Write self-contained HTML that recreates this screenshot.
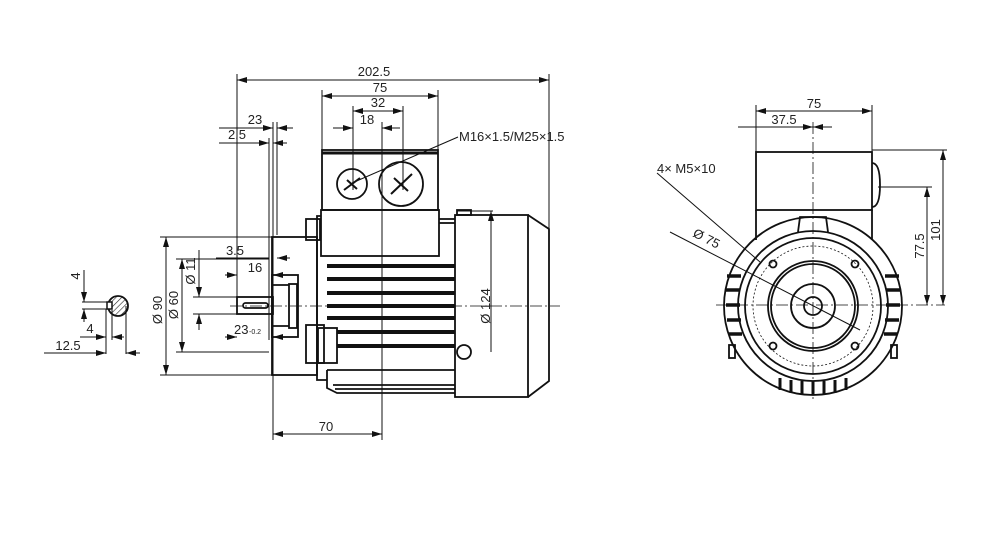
<!DOCTYPE html>
<html><head><meta charset="utf-8"><style>
html,body{margin:0;padding:0;background:#fff;}
svg{display:block;font-family:"Liberation Sans",sans-serif;}
text{fill:#222;font-size:13px;}
</style></head><body>
<svg width="998" height="545" viewBox="0 0 998 545" xmlns="http://www.w3.org/2000/svg">
<defs>
<marker id="a" viewBox="0 0 10 6" refX="10" refY="3" markerWidth="10" markerHeight="6" orient="auto-start-reverse" markerUnits="userSpaceOnUse"><path d="M0,0L10,3L0,6z" fill="#111"/></marker>
<pattern id="h" width="4" height="4" patternUnits="userSpaceOnUse" patternTransform="rotate(45)"><line x1="0" y1="0" x2="0" y2="4" stroke="#222" stroke-width="1.2"/></pattern>
</defs>
<g stroke="#111" fill="none" stroke-width="1">
<!-- ===== Side view dimensions ===== -->
<line x1="237" y1="80" x2="549" y2="80" marker-start="url(#a)" marker-end="url(#a)"/>
<line x1="237" y1="74" x2="237" y2="300"/>
<line x1="549" y1="74" x2="549" y2="230"/>
<line x1="322" y1="96" x2="438" y2="96" marker-start="url(#a)" marker-end="url(#a)"/>
<line x1="322" y1="90" x2="322" y2="150"/><line x1="438" y1="90" x2="438" y2="150"/>
<line x1="353" y1="111" x2="403" y2="111" marker-start="url(#a)" marker-end="url(#a)"/>
<line x1="353" y1="106" x2="353" y2="190"/><line x1="403" y1="106" x2="403" y2="190"/>
<line x1="333" y1="128" x2="353" y2="128" marker-end="url(#a)"/>
<line x1="382" y1="128" x2="400" y2="128" marker-start="url(#a)"/>
<line x1="382" y1="122" x2="382" y2="440"/>
<line x1="219" y1="128" x2="273" y2="128" marker-end="url(#a)"/>
<line x1="277" y1="128" x2="293" y2="128" marker-start="url(#a)"/>
<line x1="219" y1="143" x2="269" y2="143" marker-end="url(#a)"/>
<line x1="273" y1="143" x2="287" y2="143" marker-start="url(#a)"/>
<line x1="269" y1="138" x2="269" y2="340"/><line x1="273" y1="122" x2="273" y2="440"/><line x1="277" y1="122" x2="277" y2="235"/>
<line x1="273" y1="434" x2="382" y2="434" marker-start="url(#a)" marker-end="url(#a)"/>
<!-- M16 leader -->
<line x1="352" y1="183" x2="458" y2="137"/>
<!-- Ø90, Ø60, Ø11 -->
<line x1="160" y1="237" x2="273" y2="237"/><line x1="160" y1="375" x2="273" y2="375"/>
<line x1="166" y1="237" x2="166" y2="375" marker-start="url(#a)" marker-end="url(#a)"/>
<line x1="176" y1="259" x2="269" y2="259"/><line x1="176" y1="352" x2="269" y2="352"/>
<line x1="182" y1="259" x2="182" y2="352" marker-start="url(#a)" marker-end="url(#a)"/>
<line x1="193" y1="297" x2="240" y2="297"/><line x1="193" y1="314" x2="240" y2="314"/>
<line x1="199" y1="250" x2="199" y2="297" marker-end="url(#a)"/>
<line x1="199" y1="314" x2="199" y2="330" marker-start="url(#a)"/>
<line x1="216" y1="258" x2="269" y2="258" /><line x1="277" y1="258" x2="290" y2="258" marker-start="url(#a)"/>
<line x1="225" y1="275" x2="237" y2="275" marker-end="url(#a)"/>
<line x1="273" y1="275" x2="282" y2="275" marker-start="url(#a)"/>
<line x1="225" y1="337" x2="237" y2="337" marker-end="url(#a)"/>
<line x1="273" y1="337" x2="285" y2="337" marker-start="url(#a)"/>
<!-- Ø124 -->
<line x1="457" y1="211" x2="493" y2="211"/>
<line x1="491" y1="211" x2="491" y2="352" marker-start="url(#a)"/>
<!-- center line -->
<line x1="230" y1="306" x2="560" y2="306" stroke-dasharray="12,3,2,3" stroke-width="0.8"/>
<!-- ===== Side view body ===== -->
<g stroke-width="1.8">
<rect x="322" y="150" width="116" height="60"/>
<line x1="322" y1="153" x2="438" y2="153" stroke-width="3"/>
<circle cx="352" cy="184" r="15"/><circle cx="401" cy="184" r="22"/>
<rect x="321" y="210" width="118" height="46"/>
<polyline points="321,216 317,216 317,380 327,380"/>
<rect x="306" y="219" width="14" height="21"/>
<rect x="306" y="325" width="18" height="38"/><rect x="318" y="328" width="19" height="35"/>
<rect x="272" y="237" width="45" height="138"/>
<rect x="272" y="275" width="26" height="62"/>
<rect x="289" y="284" width="8" height="44"/>
<rect x="237" y="297" width="36" height="17"/>
<rect x="243" y="303" width="25" height="5" rx="2.5"/>
<line x1="272" y1="285" x2="289" y2="285"/><line x1="272" y1="326" x2="289" y2="326"/>
<line x1="439" y1="219" x2="455" y2="219"/><line x1="439" y1="223" x2="455" y2="223"/>
<rect x="455" y="215" width="73" height="182"/>
<polyline points="528,215 549,229 549,381 528,397"/>
<rect x="457" y="210" width="14" height="5"/>
<circle cx="464" cy="352" r="7"/>
<polyline points="327,370 327,388 337,393 455,393"/>
<line x1="327" y1="370" x2="455" y2="370"/>
<line x1="333" y1="385" x2="455" y2="385"/>
<line x1="335" y1="389" x2="455" y2="389"/>
</g>
<g stroke-width="4">
<line x1="327" y1="266" x2="455" y2="266"/><line x1="327" y1="279" x2="455" y2="279"/>
<line x1="327" y1="293" x2="455" y2="293"/><line x1="327" y1="306" x2="455" y2="306"/>
<line x1="327" y1="318" x2="455" y2="318"/><line x1="337" y1="332" x2="455" y2="332"/>
<line x1="337" y1="346" x2="455" y2="346"/>
</g>
<g stroke-width="2">
<path d="M344,190 L360,178 M347,180 L357,189"/>
<path d="M391,194 L412,174 M394,178 L408,191"/>
</g>
<!-- ===== Key detail ===== -->
<circle cx="118" cy="306" r="10" fill="url(#h)" stroke-width="1.8"/>
<rect x="107" y="302" width="5" height="7" fill="#fff" stroke-width="1.5"/>
<line x1="82" y1="302" x2="110" y2="302"/><line x1="82" y1="309" x2="110" y2="309"/>
<line x1="84" y1="270" x2="84" y2="302" marker-end="url(#a)"/>
<line x1="84" y1="309" x2="84" y2="322" marker-start="url(#a)"/>
<line x1="106" y1="309" x2="106" y2="354"/><line x1="112" y1="310" x2="112" y2="340"/><line x1="126" y1="306" x2="126" y2="354"/>
<line x1="80" y1="337" x2="106" y2="337" marker-end="url(#a)"/>
<line x1="112" y1="337" x2="124" y2="337" marker-start="url(#a)"/>
<line x1="44" y1="353" x2="106" y2="353" marker-end="url(#a)"/>
<line x1="126" y1="353" x2="140" y2="353" marker-start="url(#a)"/>
<!-- ===== End view ===== -->
<line x1="756" y1="111" x2="872" y2="111" marker-start="url(#a)" marker-end="url(#a)"/>
<line x1="756" y1="105" x2="756" y2="152"/><line x1="872" y1="105" x2="872" y2="152"/>
<line x1="738" y1="127" x2="813" y2="127" marker-end="url(#a)"/>
<line x1="813" y1="127" x2="832" y2="127" marker-start="url(#a)"/>
<line x1="813" y1="122" x2="813" y2="400" stroke-dasharray="12,3,2,3" stroke-width="0.8"/>
<line x1="716" y1="305" x2="945" y2="305" stroke-dasharray="12,3,2,3" stroke-width="0.8"/>
<line x1="872" y1="150" x2="947" y2="150"/><line x1="878" y1="187" x2="932" y2="187"/>
<line x1="943" y1="150" x2="943" y2="305" marker-start="url(#a)" marker-end="url(#a)"/>
<line x1="927" y1="187" x2="927" y2="305" marker-start="url(#a)" marker-end="url(#a)"/>
<line x1="657" y1="173" x2="760" y2="262"/>
<line x1="670" y1="232" x2="860" y2="330"/>
<g stroke-width="1.8">
<rect x="756" y="152" width="116" height="58"/>
<path d="M872,163 q8,0 8,22 q0,22 -8,22"/>
<line x1="756" y1="210" x2="756" y2="240"/><line x1="872" y1="210" x2="872" y2="240"/>
<circle cx="813" cy="306" r="89"/>
<circle cx="813" cy="306" r="75"/>
<circle cx="813" cy="306" r="68"/>
<circle cx="813" cy="306" r="45"/><circle cx="813" cy="306" r="42"/>
<circle cx="813" cy="306" r="22"/><circle cx="813" cy="306" r="9"/>
<path d="M798,232 L800,217 L826,217 L828,232"/>
<circle cx="773" cy="264" r="3.5"/><circle cx="855" cy="264" r="3.5"/>
<circle cx="773" cy="346" r="3.5"/><circle cx="855" cy="346" r="3.5"/>
<rect x="729" y="345" width="6" height="13"/><rect x="891" y="345" width="6" height="13"/>
</g>
<circle cx="813" cy="306" r="60" stroke-dasharray="2,2" stroke-width="0.8"/>
<g stroke-width="3.5">
<line x1="727" y1="276" x2="741" y2="276"/><line x1="726" y1="290" x2="740" y2="290"/><line x1="726" y1="305" x2="740" y2="305"/><line x1="727" y1="320" x2="741" y2="320"/><line x1="729" y1="334" x2="742" y2="334"/>
<line x1="885" y1="276" x2="899" y2="276"/><line x1="886" y1="290" x2="900" y2="290"/><line x1="886" y1="305" x2="900" y2="305"/><line x1="885" y1="320" x2="899" y2="320"/><line x1="884" y1="334" x2="897" y2="334"/>
</g>
<g stroke-width="3">
<line x1="780" y1="378" x2="780" y2="390"/><line x1="791" y1="380" x2="791" y2="393"/><line x1="802" y1="381" x2="802" y2="395"/><line x1="813" y1="381" x2="813" y2="395"/><line x1="824" y1="381" x2="824" y2="395"/><line x1="835" y1="380" x2="835" y2="393"/><line x1="846" y1="378" x2="846" y2="390"/>
</g>
</g>
<!-- ===== Text ===== -->
<text x="374" y="76" text-anchor="middle">202.5</text>
<text x="380" y="92" text-anchor="middle">75</text>
<text x="378" y="107" text-anchor="middle">32</text>
<text x="367" y="124" text-anchor="middle">18</text>
<text x="255" y="124" text-anchor="middle">23</text>
<text x="237" y="139" text-anchor="middle">2.5</text>
<text x="459" y="141">M16×1.5/M25×1.5</text>
<text x="235" y="255" text-anchor="middle">3.5</text>
<text x="255" y="272" text-anchor="middle">16</text>
<text x="234" y="334">23</text><text x="249" y="334" style="font-size:7px">-0.2</text>
<text x="326" y="431" text-anchor="middle">70</text>
<text transform="translate(162,310) rotate(-90)" text-anchor="middle">Ø 90</text>
<text transform="translate(178,305) rotate(-90)" text-anchor="middle">Ø 60</text>
<text transform="translate(195,271) rotate(-90)" text-anchor="middle">Ø 11</text>
<text transform="translate(490,306) rotate(-90)" text-anchor="middle">Ø 124</text>
<text transform="translate(80,276) rotate(-90)" text-anchor="middle">4</text>
<text x="90" y="333" text-anchor="middle">4</text>
<text x="68" y="350" text-anchor="middle">12.5</text>
<text x="814" y="108" text-anchor="middle">75</text>
<text x="784" y="124" text-anchor="middle">37.5</text>
<text x="657" y="173">4× M5×10</text>
<text transform="translate(692,236) rotate(27)">Ø 75</text>
<text transform="translate(940,230) rotate(-90)" text-anchor="middle">101</text>
<text transform="translate(924,246) rotate(-90)" text-anchor="middle">77.5</text>
</svg>
</body></html>
